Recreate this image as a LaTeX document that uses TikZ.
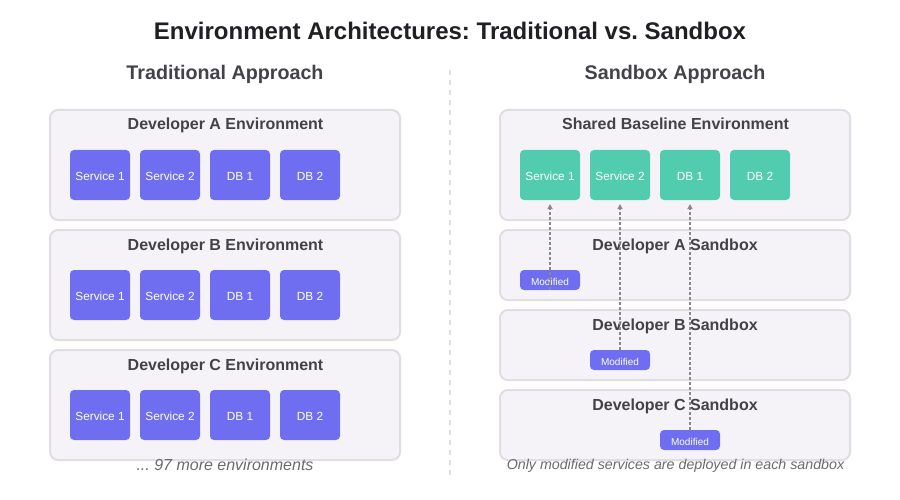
\documentclass[tikz,border=0pt]{standalone}
\usepackage{fontspec}
\setmainfont{Liberation Sans}
\usetikzlibrary{arrows.meta}
\definecolor{ink}{HTML}{1F1F24}
\definecolor{head}{HTML}{444249}
\definecolor{panelfill}{HTML}{F5F3F7}
\definecolor{panelline}{HTML}{E0DEE2}
\definecolor{purple}{HTML}{6F6EF0}
\definecolor{teal}{HTML}{52CCAE}
\definecolor{conn}{HTML}{8A888E}
\definecolor{note}{HTML}{6B696F}
\frenchspacing
\tikzset{
  x=1pt,y=-1pt,
  panel/.style={draw=panelline,fill=panelfill,line width=2pt,rounded corners=8pt,outer sep=0pt,inner sep=0pt,minimum width=350pt},
  svc/.style={fill=#1,rounded corners=4pt,outer sep=0pt,inner sep=0pt,minimum width=60pt,minimum height=50pt,text=white,text height=11.5pt,text depth=0pt,font=\fontsize{11.8}{14}\selectfont},
  modbox/.style={fill=purple,rounded corners=4pt,outer sep=0pt,inner sep=0pt,minimum width=60pt,minimum height=20pt,text=white,text height=11pt,text depth=0pt,font=\fontsize{10}{12}\selectfont},
  maintitle/.style={anchor=base,text=ink,font=\fontsize{24}{28}\selectfont\bfseries},
  subtitle/.style={anchor=base,text=head,font=\fontsize{19.7}{24}\selectfont\bfseries},
  paneltitle/.style={anchor=base,text=head,font=\fontsize{16}{19}\selectfont\bfseries},
  notetext/.style={anchor=base,text=note,font=\fontsize{14.25}{17}\selectfont\itshape},
  link/.style={draw=conn,line width=1.5pt,dash pattern=on 3pt off 2pt,-{Triangle[length=5pt,width=5pt]},shorten >=4pt},
}
\begin{document}
\begin{tikzpicture}
\useasboundingbox (0,0) rectangle (900,500);
\fill[white] (0,0) rectangle (900,500);
\node[maintitle] (title) at (450,40) {Environment Architectures: Traditional vs. Sandbox};
\node[subtitle] (subL) at (225,80) {Traditional Approach};
\node[subtitle] (subR) at (675,80) {Sandbox Approach};
\coordinate (divT) at (450,70);
\coordinate (divB) at (450,475);
\draw[panelline,line width=2pt,dash pattern=on 5pt off 5pt] (divT) -- (divB);

% traditional
\foreach \n/\y/\t in {A/165/130,B/285/250,C/405/370}{
  \node[panel,minimum height=110pt] (p\n) at (225,\y) {};
  \node[paneltitle] (pt\n) at (225.5,\t) {Developer \n\ Environment};
}
\foreach \n/\y in {A/175,B/295,C/415}{
  \node[svc=purple] (s1\n) at (100,\y) {Service 1};
  \node[svc=purple] (s2\n) at (170,\y) {Service 2};
  \node[svc=purple] (d1\n) at (240,\y) {DB 1};
  \node[svc=purple] (d2\n) at (310,\y) {DB 2};
}
\node[notetext,font=\fontsize{16}{19}\selectfont\itshape] (noteL) at (225,470) {... 97 more environments};

% sandbox
\node[panel,minimum height=110pt] (base) at (675,165) {};
\node[paneltitle] (baseT) at (675.5,130) {Shared Baseline Environment};
\node[svc=teal] (bs1) at (550,175) {Service 1};
\node[svc=teal] (bs2) at (620,175) {Service 2};
\node[svc=teal] (bd1) at (690,175) {DB 1};
\node[svc=teal] (bd2) at (760,175) {DB 2};
\foreach \n/\y/\t in {A/265/250,B/345/330,C/425/410}{
  \node[panel,minimum height=70pt] (sb\n) at (675,\y) {};
  \node[paneltitle] (sbt\n) at (675,\t) {Developer \n\ Sandbox};
}
\node[modbox] (mA) at (550,280) {Modified};
\node[modbox] (mB) at (620,360) {Modified};
\node[modbox] (mC) at (690,440) {Modified};
\draw[link] (mA.south) -- (bs1.south);
\draw[link] (mB.north) -- (bs2.south);
\draw[link] (mC.north) -- (bd1.south);
\node[notetext] (noteR) at (675.5,469) {Only modified services are deployed in each sandbox};
\end{tikzpicture}
\end{document}
